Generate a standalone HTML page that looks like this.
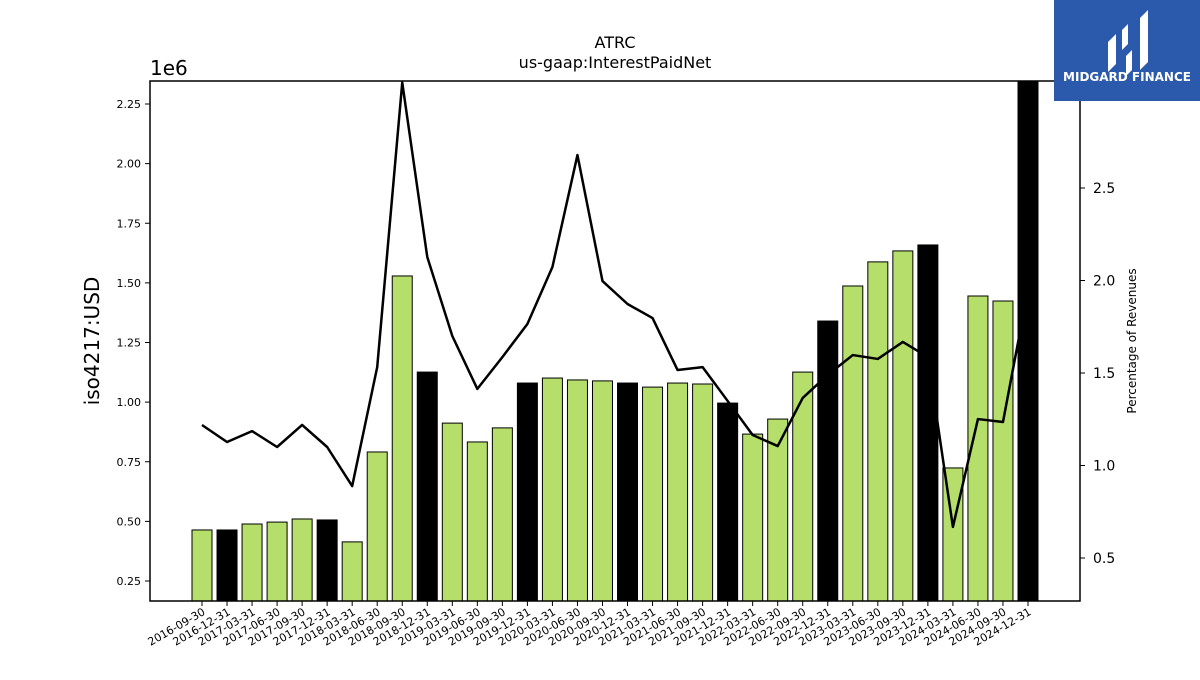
<!DOCTYPE html>
<html><head><meta charset="utf-8"><style>
body{margin:0;background:#fff;font-family:"Liberation Sans","DejaVu Sans",sans-serif}
svg text{font-family:"DejaVu Sans","Liberation Sans",sans-serif}
</style></head><body>
<svg id="chart" width="1200" height="675" xmlns="http://www.w3.org/2000/svg">
<rect width="1200" height="675" fill="#fff"/>
<text x="615" y="48" text-anchor="middle" font-size="16">ATRC</text>
<text x="615" y="68" text-anchor="middle" font-size="16">us-gaap:InterestPaidNet</text>
<text x="150" y="75" font-size="20">1e6</text>
<text transform="translate(99,341) rotate(-90)" text-anchor="middle" font-size="20">iso4217:USD</text>
<text transform="translate(1136,341) rotate(-90)" text-anchor="middle" font-size="12">Percentage of Revenues</text>
<g id="bars"></g><g id="line"></g><g id="axes"></g>
<g>
<rect x="1054" y="0" width="146" height="101" fill="#2b5aad"/>
<path d="M1108 42 l8 -8 v30 l-8 8z M1122 30 l6 -6 v20 l-6 6z M1126 56 l6 -6 v20 l-6 6z M1140 18 l8 -8 v52 l-8 8z" fill="#fff"/>
<text x="1127" y="81" text-anchor="middle" font-size="12" font-weight="bold" fill="#fff">MIDGARD FINANCE</text>
</g>
</svg>
<script>
const categories=["2016-09-30","2016-12-31","2017-03-31","2017-06-30","2017-09-30","2017-12-31","2018-03-31","2018-06-30","2018-09-30","2018-12-31","2019-03-31","2019-06-30","2019-09-30","2019-12-31","2020-03-31","2020-06-30","2020-09-30","2020-12-31","2021-03-31","2021-06-30","2021-09-30","2021-12-31","2022-03-31","2022-06-30","2022-09-30","2022-12-31","2023-03-31","2023-06-30","2023-09-30","2023-12-31","2024-03-31","2024-06-30","2024-09-30","2024-12-31"];
const barValues=[0.464,0.464,0.489,0.497,0.51,0.506,0.414,0.791,1.529,1.126,0.912,0.833,0.892,1.08,1.101,1.093,1.089,1.08,1.063,1.08,1.076,0.996,0.866,0.929,1.126,1.34,1.487,1.588,1.634,1.659,0.724,1.445,1.424,2.6];
const pctValues=[1.219,1.127,1.186,1.1,1.219,1.1,0.889,1.532,3.07,2.127,1.7,1.414,1.586,1.765,2.073,2.678,1.997,1.873,1.797,1.516,1.532,1.349,1.165,1.105,1.365,1.49,1.597,1.576,1.668,1.586,0.668,1.251,1.235,1.95];
const leftTicks=[0.25,0.5,0.75,1.0,1.25,1.5,1.75,2.0,2.25];
const rightTicks=[0.5,1.0,1.5,2.0,2.5];
const NS="http://www.w3.org/2000/svg";
const L=150,R=1080,T=81,B=601;
const yL=v=>581-(v-0.25)*238.5;
const yR=p=>558-(p-0.5)*185;
const xB=i=>202+i*(826/(categories.length-1));
function mk(tag,attrs,parent){const e=document.createElementNS(NS,tag);for(const k in attrs)e.setAttribute(k,attrs[k]);parent.appendChild(e);return e;}
const bars=document.getElementById('bars'),line=document.getElementById('line'),axes=document.getElementById('axes');
const clip=mk('clipPath',{id:'pc'},document.getElementById('chart'));mk('rect',{x:L,y:T,width:R-L,height:B-T},clip);
bars.setAttribute('clip-path','url(#pc)');line.setAttribute('clip-path','url(#pc)');
barValues.forEach((v,i)=>{const top=yL(v);const black=(categories[i].endsWith('12-31'));
const r=mk('rect',{x:xB(i)-10,y:top,width:20,height:B-top,fill:black?'#000':'#b5de6a',stroke:'#000','stroke-width':1},bars);

});
const p=mk('polyline',{points:pctValues.map((v,i)=>xB(i)+','+yR(v)).join(' '),fill:'none',stroke:'#000','stroke-width':2.5,'stroke-linejoin':'round'},line);


const fr=mk('rect',{x:L,y:T,width:R-L,height:B-T,fill:'none',stroke:'#000','stroke-width':1.5},axes);


leftTicks.forEach(t=>{const y=yL(t);mk('line',{x1:L-5,x2:L,y1:y,y2:y,stroke:'#000'},axes);
const tx=mk('text',{x:L-9,y:y+4,'text-anchor':'end','font-size':11},axes);tx.textContent=t.toFixed(2);

});
rightTicks.forEach(t=>{const y=yR(t);mk('line',{x1:R,x2:R+5,y1:y,y2:y,stroke:'#000'},axes);
const tx=mk('text',{x:R+13,y:y+5,'font-size':14},axes);tx.textContent=t.toFixed(1);

});
categories.forEach((c,i)=>{const x=xB(i);mk('line',{x1:x,x2:x,y1:B,y2:B+5,stroke:'#000'},axes);
const tx=mk('text',{transform:`translate(${x+4},${B+13}) rotate(-30)`,'text-anchor':'end','font-size':11},axes);tx.textContent=c;

});
</script>
</body></html>
